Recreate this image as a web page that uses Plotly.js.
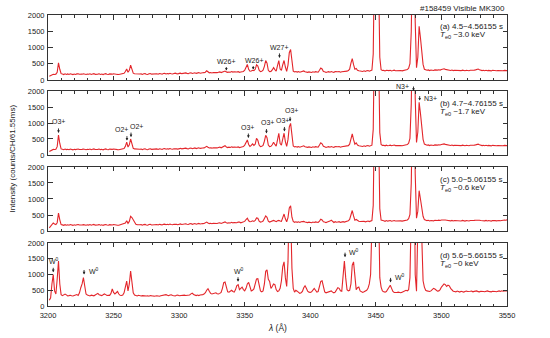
<!DOCTYPE html>
<html>
<head>
<meta charset="utf-8">
<script src="https://cdn.plot.ly/plotly-3.0.1.min.js"></script>
<style>html,body{margin:0;padding:0;background:#fff;}#chart{width:550px;height:338px;}</style>
</head>
<body>
<div id="chart"></div>
<script>
// Wavelength grid (CCD channels, 1 Å apart) 3201 ... 3550 Å
const wlStart = 3201;
const wlStep = 1;

// (a) 4.5~4.56155 s
const intensityA = [
115,145,165,178,172,180,240,530,330,195,
182,168,190,172,186,170,192,176,166,184,
172,188,194,176,168,180,190,178,170,186,
176,192,170,184,196,174,168,182,190,172,
184,166,182,194,176,170,188,172,180,192,
178,186,172,170,184,190,192,205,260,340,
240,300,460,320,210,194,186,190,176,184,
188,172,190,196,178,170,192,198,180,186,
196,184,194,178,200,190,178,198,204,186,
200,188,206,194,184,200,210,196,188,204,
212,196,210,200,218,204,194,214,222,200,
216,224,204,214,228,210,206,222,226,240,
285,246,222,230,218,232,224,238,226,240,
250,228,246,262,275,250,236,248,240,262,
244,256,240,248,258,236,246,256,262,300,
390,480,330,270,280,300,290,330,470,430,
300,260,270,300,420,600,520,300,255,265,
310,380,320,275,440,600,340,300,470,600,
400,265,460,840,940,480,275,248,262,244,
258,240,262,270,280,256,242,236,250,238,
230,252,238,256,248,240,300,370,340,262,
252,232,248,256,240,262,246,236,258,244,
254,262,240,256,262,248,264,272,290,335,
520,660,470,335,355,300,284,274,278,264,
282,262,284,290,270,282,305,800,4000,9000,
9000,4000,700,320,292,296,278,300,284,290,
300,280,290,302,286,292,278,298,290,282,
296,302,306,322,362,500,1500,6000,7000,1800,
380,700,1650,1300,760,480,332,312,300,310,
290,306,300,292,310,296,304,316,306,322,
336,344,328,316,300,308,292,306,290,302,
296,306,290,298,288,304,296,284,300,292,
286,300,294,290,304,312,322,336,318,300,
290,298,286,300,284,296,288,280,298,286,
292,284,294,288,280,292,284,296,282,290
];

// (b) 4.7~4.76155 s
const intensityB = [
110,140,160,175,170,178,260,620,360,190,
178,164,184,168,180,166,186,172,160,180,
168,182,188,170,162,176,186,174,166,180,
172,188,166,178,190,170,162,176,186,168,
180,160,178,190,172,166,184,168,176,188,
174,182,168,166,180,186,188,200,270,400,
250,320,500,330,210,190,182,186,170,180,
184,168,186,192,174,166,188,194,176,182,
192,180,190,174,196,186,174,194,200,182,
196,184,202,190,180,196,206,192,184,200,
208,192,206,196,214,200,190,210,218,196,
212,220,200,210,224,206,202,218,222,236,
272,242,218,226,214,228,220,234,222,236,
246,224,242,265,290,250,232,244,236,258,
240,252,236,244,254,232,242,252,262,310,
400,470,330,270,300,350,300,340,520,460,
310,260,270,300,430,615,540,310,260,270,
320,400,330,280,470,680,360,310,500,680,
420,270,480,880,990,500,280,250,266,246,
262,244,266,276,286,260,246,240,254,242,
234,256,242,260,252,244,310,380,350,270,
256,236,252,260,244,266,250,240,262,248,
258,266,244,260,266,252,268,276,292,340,
530,660,480,340,380,310,290,278,282,268,
286,266,288,294,274,286,308,800,4000,9000,
9000,4000,700,330,300,304,286,308,290,298,
308,288,298,310,294,300,286,306,298,290,
304,310,312,328,370,520,1600,6000,7000,1800,
390,720,1650,1300,760,490,340,318,306,316,
296,312,306,298,316,302,310,322,312,328,
340,348,332,320,304,312,296,310,294,306,
300,310,294,302,292,308,300,288,304,296,
290,304,298,294,308,316,326,338,320,304,
294,302,290,304,288,300,292,284,302,290,
296,288,298,292,284,296,288,300,286,294
];

// (c) 5.0~5.06155 s
const intensityC = [
100,150,200,250,220,200,260,560,350,200,
192,178,198,182,196,180,202,186,176,194,
182,198,204,186,178,190,200,188,180,196,
186,202,180,194,206,184,178,192,200,182,
194,176,192,204,186,180,198,182,190,202,
188,196,182,180,194,200,204,215,250,320,
240,300,460,420,360,260,210,200,186,194,
198,182,200,206,188,180,202,208,190,196,
206,194,204,188,210,200,188,208,214,196,
210,198,216,204,194,210,220,206,198,214,
222,206,220,210,228,214,204,224,232,210,
226,234,214,224,238,220,216,232,236,250,
278,252,232,240,228,242,234,248,236,250,
258,238,256,272,285,260,246,258,250,272,
254,266,250,258,278,282,256,266,274,300,
360,400,320,290,300,320,300,330,410,400,
310,280,290,310,390,470,430,310,280,290,
320,330,310,290,320,330,310,300,420,530,
380,290,420,720,790,430,300,272,288,270,
286,266,290,296,300,280,268,262,276,266,
258,280,266,284,276,268,310,370,345,290,
282,262,278,286,310,340,300,266,290,274,
284,292,270,286,292,278,294,302,318,360,
540,640,470,340,360,320,305,298,302,290,
304,286,306,312,294,306,328,800,4000,9000,
9000,4000,700,340,318,322,304,326,308,316,
326,306,316,328,312,318,304,324,316,308,
322,328,330,346,386,520,1500,6000,7000,1800,
400,620,1260,1000,650,460,356,336,324,334,
314,330,324,316,334,320,328,340,330,346,
352,358,342,336,322,330,316,332,314,326,
320,332,316,324,314,330,322,310,326,318,
314,328,322,318,332,338,344,352,338,328,
318,328,316,330,314,326,318,310,328,316,
324,318,330,326,320,334,330,342,338,350
];

// (d) 5.6~5.66155 s
const intensityD = [
180,260,700,1000,480,380,850,1430,700,360,
330,358,380,352,322,330,342,326,318,336,
356,364,336,420,580,700,900,640,380,346,
326,318,346,332,324,350,374,400,360,334,
330,356,384,362,332,340,338,400,540,430,
380,420,460,380,340,335,350,420,600,790,
480,700,1110,800,420,350,336,318,340,326,
320,330,322,338,318,326,312,330,336,318,
312,330,326,318,310,326,336,340,352,360,
344,328,350,356,334,326,320,340,346,326,
332,350,364,346,334,340,326,350,384,410,
366,336,330,346,332,350,346,362,380,420,
500,550,470,400,380,390,410,420,390,380,
400,430,560,740,760,560,450,440,470,500,
460,440,520,650,680,520,560,600,520,480,
560,700,750,560,480,500,540,700,860,870,
600,480,450,480,700,1100,1150,850,780,560,
620,700,680,520,460,480,560,800,1250,1400,
900,620,1400,3500,3000,1200,560,440,500,470,
420,400,420,460,580,640,560,470,440,430,
450,520,560,500,440,460,600,780,800,560,
450,420,430,440,470,480,440,420,440,500,
580,560,480,470,900,1430,900,520,480,500,
700,1300,1400,800,520,580,600,480,440,430,
450,470,500,560,700,1000,1600,3000,6000,9000,
9000,3500,900,600,480,450,440,460,520,620,
660,560,460,430,420,430,440,430,420,440,
460,480,500,480,520,900,3000,8000,6000,1000,
470,2500,8000,5000,2200,800,600,500,480,470,
460,480,520,560,540,490,470,480,520,600,
650,700,680,620,660,640,560,500,470,460,
448,476,456,444,468,450,442,462,476,460,
452,468,476,450,464,472,478,456,450,470,
476,458,452,470,478,464,456,450,468,474,
460,454,474,480,464,484,468,482,488,476
];

const panelTitles = ['(a) 4.5~4.56155 s', '(b) 4.7~4.76155 s', '(c) 5.0~5.06155 s', '(d) 5.6~5.66155 s'];
const panelTe = ['~3.0 keV', '~1.7 keV', '~0.6 keV', '~0 keV'];
const xTicks = [3200, 3250, 3300, 3350, 3400, 3450, 3500, 3550];
const yTicks = [0, 500, 1000, 1500, 2000];

// line identifications: panel, wavelength, arrow tip intensity, label, label dx, dy (px), anchor, arrow length (px)
const lineIds = [
  [1, 3336.0, 290, 'W26+', 0, 9.5, 'center', 5],
  [1, 3356.5, 320, 'W26+', 1, 9.5, 'center', 5],
  [1, 3376.5, 680, 'W27+', 0, 10.5, 'center', 6],
  [2, 3208.0, 690, 'O3+', 0, 11, 'center', 6],
  [2, 3260.2, 450, 'O2+', -5, 11.5, 'center', 6],
  [2, 3263.3, 560, 'O2+', 5, 11, 'center', 6],
  [2, 3352.8, 530, 'O3+', -1, 11, 'center', 6],
  [2, 3366.6, 670, 'O3+', 1, 11, 'center', 6],
  [2, 3380.3, 735, 'O3+', -2, 11, 'center', 6],
  [2, 3384.6, 1050, 'O3+', 1, 11, 'center', 6],
  [2, 3478.7, 2000, 'N3+', -3, 5, 'right', 6],
  [2, 3483.4, 1700, 'N3+', 2, 2, 'left', 6],
  [4, 3204.0, 1070, 'W<sup>0</sup>', 1, 11, 'center', 6],
  [4, 3227.5, 1000, 'W<sup>0</sup>', 2.5, 3, 'left', 6],
  [4, 3344.9, 770, 'W<sup>0</sup>', 1, 11, 'center', 6],
  [4, 3426.5, 1550, 'W<sup>0</sup>', 2, 5, 'left', 6],
  [4, 3461.2, 750, 'W<sup>0</sup>', 2, 5, 'left', 6]
];

const series = [intensityA, intensityB, intensityC, intensityD];
const wavelength = intensityA.map((_, i) => wlStart + i * wlStep);

const FONT = 'Liberation Sans, Arial, Helvetica, sans-serif';
const AX = '#333';
const L = 48, R = 507, T = 15, B = 306;
const domains = [[0.7766, 1.0], [0.5189, 0.7388], [0.2577, 0.4777], [0.0, 0.2165]];
const panelTopPx = [15, 91, 167, 243];

const traces = series.map((ys, k) => ({
  type: 'scatter', mode: 'lines',
  x: wavelength, y: ys,
  xaxis: k === 0 ? 'x' : 'x' + (k + 1),
  yaxis: k === 0 ? 'y' : 'y' + (k + 1),
  line: {color: '#e3262b', width: 1.1},
  hoverinfo: 'skip'
}));

const layout = {
  width: 550, height: 338,
  margin: {l: L, r: 550 - R, t: T, b: 338 - B},
  paper_bgcolor: '#fff', plot_bgcolor: '#fff',
  showlegend: false,
  font: {family: FONT, size: 8, color: '#222'},
  annotations: [],
  shapes: []
};

for (let k = 0; k < 4; k++) {
  const xs = k === 0 ? 'xaxis' : 'xaxis' + (k + 1);
  const ysn = k === 0 ? 'yaxis' : 'yaxis' + (k + 1);
  const yref = k === 0 ? 'y' : 'y' + (k + 1);
  layout[xs] = {
    range: [3200, 3550], anchor: yref,
    tickmode: 'array', tickvals: xTicks, ticktext: xTicks.map(String),
    showticklabels: k === 3,
    ticks: 'inside', ticklen: 4.5, tickwidth: 1, tickcolor: AX,
    ticklabelstandoff: 2,
    minor: {dtick: 10, tick0: 3200, ticks: 'inside', ticklen: 2.5, tickcolor: AX, tickwidth: 1, showgrid: false},
    showline: true, linecolor: AX, linewidth: 1, mirror: 'ticks',
    showgrid: false, zeroline: false,
    tickfont: {family: FONT, size: 7.5, color: '#222'}
  };
  if (k > 0) layout[xs].matches = 'x';
  layout[ysn] = {
    domain: domains[k], range: [0, 2000], anchor: k === 0 ? 'x' : 'x' + (k + 1),
    tickmode: 'array', tickvals: yTicks, ticktext: yTicks.map(String),
    ticks: 'inside', ticklen: 4.5, tickwidth: 1, tickcolor: AX,
    ticklabelstandoff: 1,
    showline: true, linecolor: AX, linewidth: 1, mirror: 'ticks',
    showgrid: false, zeroline: false,
    tickfont: {family: FONT, size: 7.5, color: '#222'}
  };
  const xp = (438 - L) / (R - L);
  layout.annotations.push({
    xref: 'paper', yref: 'paper', x: xp, y: (B - (panelTopPx[k] + 12)) / (B - T),
    xanchor: 'left', yanchor: 'middle', showarrow: false,
    text: panelTitles[k], font: {family: FONT, size: 8, color: '#222'}
  });
  layout.annotations.push({
    xref: 'paper', yref: 'paper', x: xp, y: (B - (panelTopPx[k] + 20.5)) / (B - T),
    xanchor: 'left', yanchor: 'middle', showarrow: false,
    text: '<i>T</i><sub>e0</sub> ' + panelTe[k], font: {family: FONT, size: 8, color: '#222'}
  });
}

lineIds.forEach(([p, lam, tip, txt, dx, dy, anc, len]) => {
  const xr = p === 1 ? 'x' : 'x' + p;
  const yr = p === 1 ? 'y' : 'y' + p;
  layout.annotations.push({
    xref: xr, yref: yr, x: lam, y: tip, text: '', showarrow: true,
    ax: 0, ay: -len, arrowhead: 2, arrowsize: 0.6, arrowwidth: 0.9, arrowcolor: '#222', standoff: 0
  });
  layout.annotations.push({
    xref: xr, yref: yr, x: lam, y: tip, text: txt, showarrow: false,
    xshift: dx, yshift: dy, xanchor: anc, yanchor: 'middle',
    font: {family: FONT, size: 7, color: '#222'}
  });
});

layout.annotations.push({
  xref: 'paper', yref: 'paper', x: 1, y: (B - 8.5) / (B - T), xanchor: 'right', yanchor: 'middle',
  showarrow: false, text: '#158459 Visible MK300', font: {family: FONT, size: 8, color: '#222'}
});
layout.annotations.push({
  xref: 'paper', yref: 'paper', x: (12 - L) / (R - L), y: (B - 158.5) / (B - T),
  xanchor: 'center', yanchor: 'middle', textangle: -90,
  showarrow: false, text: 'Intensity (counts/CH/61.55ms)', font: {family: FONT, size: 8, color: '#222'}
});
layout.annotations.push({
  xref: 'paper', yref: 'paper', x: (277 - L) / (R - L), y: (B - 327.5) / (B - T),
  xanchor: 'center', yanchor: 'middle',
  showarrow: false, text: '<i>λ</i> (Å)', font: {family: FONT, size: 8.5, color: '#222'}
});

Plotly.newPlot('chart', traces, layout, {staticPlot: true, displayModeBar: false});
</script>
</body>
</html>
